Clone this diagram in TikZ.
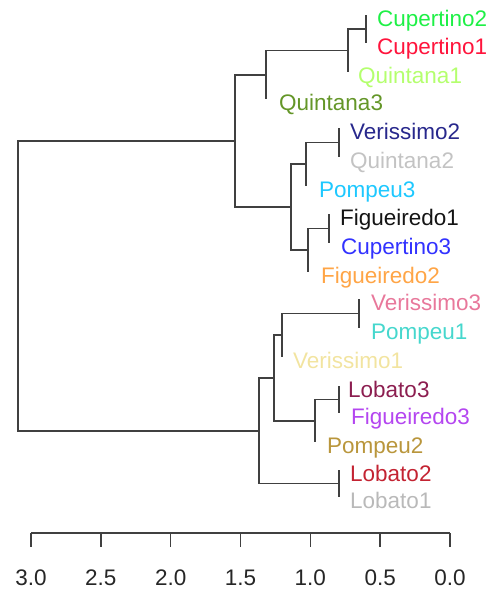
\documentclass[tikz,border=0pt]{standalone}
\usepackage{fontspec}
\setmainfont{Liberation Sans}
\begin{document}
\begin{tikzpicture}[x=1pt,y=-1pt,
  edge/.style={draw=black!75,line width=1.5pt},
  lab/.style={anchor=base west,inner sep=0pt,yshift=-11pt,font=\fontsize{22.5}{27}\selectfont},
  ticklab/.style={anchor=base,inner sep=0pt,font=\fontsize{22.5}{27}\selectfont,text=black!85}]
\useasboundingbox (0,0) rectangle (496,590);
% leaves
\coordinate (cup2) at (366,15);
\coordinate (cup1) at (366,43);
\coordinate (qui1) at (348,72);
\coordinate (qui3) at (266,99);
\coordinate (ver2) at (339,128);
\coordinate (qui2) at (339,157);
\coordinate (pom3) at (306,186);
\coordinate (fig1) at (329,214);
\coordinate (cup3) at (329,243);
\coordinate (fig2) at (308,272);
\coordinate (ver3) at (359,299);
\coordinate (pom1) at (359,328);
\coordinate (ver1) at (282,357);
\coordinate (lob3) at (339,386);
\coordinate (fig3) at (339,413);
\coordinate (pom2) at (315,442);
\coordinate (lob2) at (339,470);
\coordinate (lob1) at (339,497);
% internal nodes
\coordinate (A) at (366,29);
\coordinate (B) at (348,50.5);
\coordinate (C) at (266,75);
\coordinate (H) at (339,142.5);
\coordinate (F) at (306,164);
\coordinate (I) at (329,228.5);
\coordinate (G) at (308,250);
\coordinate (E) at (291,207);
\coordinate (D) at (235,141);
\coordinate (K) at (359,313.5);
\coordinate (L) at (282,335);
\coordinate (Q) at (339,399.5);
\coordinate (P) at (315,421);
\coordinate (M) at (274,378);
\coordinate (R) at (339,483.5);
\coordinate (N) at (259,431);
\coordinate (root) at (18,286);
% edges
\foreach \p/\c in {A/cup2,A/cup1,B/A,B/qui1,C/B,C/qui3,H/ver2,H/qui2,F/H,F/pom3,
  I/fig1,I/cup3,G/I,G/fig2,E/F,E/G,D/C,D/E,K/ver3,K/pom1,L/K,L/ver1,Q/lob3,Q/fig3,
  P/Q,P/pom2,M/L,M/P,R/lob2,R/lob1,N/M,N/R,root/D,root/N}
  \draw[edge] (\p) |- (\c);
% labels
\node[lab,xshift=11pt,text={rgb,255:red,30;green,240;blue,70}] (tcup2) at (cup2) {Cupertino2};
\node[lab,xshift=11pt,text={rgb,255:red,255;green,20;blue,60}] (tcup1) at (cup1) {Cupertino1};
\node[lab,xshift=10pt,text={rgb,255:red,180;green,255;blue,110}] (tqui1) at (qui1) {Quintana1};
\node[lab,xshift=13pt,text={rgb,255:red,100;green,150;blue,40}] (tqui3) at (qui3) {Quintana3};
\node[lab,xshift=11pt,text={rgb,255:red,40;green,40;blue,140}] (tver2) at (ver2) {Verissimo2};
\node[lab,xshift=11pt,text={rgb,255:red,195;green,195;blue,195}] (tqui2) at (qui2) {Quintana2};
\node[lab,xshift=13pt,text={rgb,255:red,30;green,200;blue,255}] (tpom3) at (pom3) {Pompeu3};
\node[lab,xshift=11pt,text={rgb,255:red,20;green,20;blue,20}] (tfig1) at (fig1) {Figueiredo1};
\node[lab,xshift=12pt,text={rgb,255:red,50;green,50;blue,255}] (tcup3) at (cup3) {Cupertino3};
\node[lab,xshift=13pt,text={rgb,255:red,255;green,165;blue,70}] (tfig2) at (fig2) {Figueiredo2};
\node[lab,xshift=12pt,text={rgb,255:red,232;green,120;blue,155}] (tver3) at (ver3) {Verissimo3};
\node[lab,xshift=12pt,text={rgb,255:red,70;green,215;blue,205}] (tpom1) at (pom1) {Pompeu1};
\node[lab,xshift=11pt,text={rgb,255:red,242;green,228;blue,160}] (tver1) at (ver1) {Verissimo1};
\node[lab,xshift=9pt,text={rgb,255:red,140;green,30;blue,80}] (tlob3) at (lob3) {Lobato3};
\node[lab,xshift=12pt,text={rgb,255:red,180;green,70;blue,240}] (tfig3) at (fig3) {Figueiredo3};
\node[lab,xshift=12pt,text={rgb,255:red,185;green,150;blue,60}] (tpom2) at (pom2) {Pompeu2};
\node[lab,xshift=11pt,text={rgb,255:red,195;green,35;blue,50}] (tlob2) at (lob2) {Lobato2};
\node[lab,xshift=11pt,text={rgb,255:red,185;green,185;blue,185}] (tlob1) at (lob1) {Lobato1};
% axis
\coordinate (ax0) at (31,533);
\coordinate (ax1) at (450,533);
\draw[edge] (ax0) -- (ax1);
\foreach \v [count=\i from 0] in {3.0,2.5,2.0,1.5,1.0,0.5,0.0} {
  \coordinate (tk\i) at ({31+\i*69.83},533);
  \draw[edge] (tk\i) -- ++(0,14);
  \node[ticklab] (tl\i) at ({31+\i*69.83},585) {\v};
}
\end{tikzpicture}
\end{document}
